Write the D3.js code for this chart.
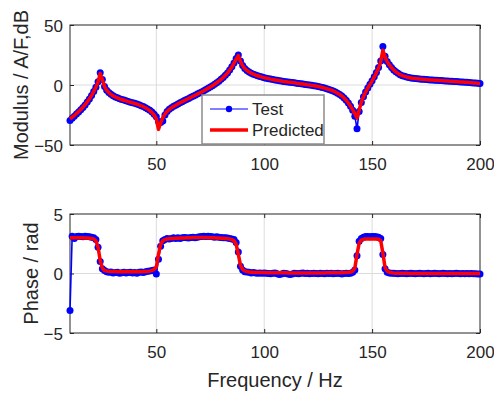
<!DOCTYPE html>
<html>
<head>
<meta charset="utf-8">
<script src="https://cdnjs.cloudflare.com/ajax/libs/d3/7.8.5/d3.min.js"></script>
<style>
body { margin: 0; background: #fff; }
svg text { font-family: "Liberation Sans", Arial, sans-serif; fill: #262626; }
</style>
</head>
<body>
<div id="chart-area"></div>
<script>

// frequency grid of the measurement, 1 Hz steps from 10 to 200 Hz
var freq = d3.range(10, 201);

// modulus (dB)
var modTest = [
    -29.6, -27.8, -26.0, -24.2, -22.4, -20.7, -18.8, -16.6, -14.2, -11.6,
    -8.7, -5.5, -1.8, 2.8, 10.2, 4.5, -1.2, -4.3, -6.3, -7.8,
    -9.0, -9.9, -10.7, -11.4, -12.0, -12.6, -13.2, -13.8, -14.3, -14.8,
    -15.3, -15.9, -16.5, -17.2, -18.0, -18.9, -19.9, -21.1, -22.6, -24.3,
    -26.5, -30.5, -31.2, -30.0, -25.0, -22.0, -20.2, -18.9, -17.8, -16.8,
    -15.8, -14.8, -13.9, -13.0, -12.1, -11.2, -10.3, -9.4, -8.5, -7.6,
    -6.7, -5.8, -4.8, -3.8, -2.8, -1.7, -0.6, 0.6, 1.9, 3.2,
    4.7, 6.3, 8.1, 10.1, 12.5, 15.2, 18.4, 22.0, 25.0, 20.0,
    16.2, 13.8, 12.1, 10.8, 9.8, 9.0, 8.3, 7.7, 7.1, 6.6,
    6.1, 5.7, 5.3, 4.9, 4.6, 4.2, 3.9, 3.6, 3.3, 3.0,
    2.8, 2.5, 2.3, 2.0, 1.8, 1.5, 1.3, 1.0, 0.8, 0.5,
    0.2, 0.0, -0.3, -0.6, -0.9, -1.3, -1.7, -2.1, -2.6, -3.1,
    -3.7, -4.3, -5.0, -5.8, -6.8, -7.9, -9.2, -10.8, -12.7, -15.0,
    -17.8, -21.0, -26.0, -36.5, -22.0, -14.5, -9.8, -5.8, -2.4, 0.6,
    3.6, 6.8, 10.5, 14.5, 20.0, 32.0, 24.0, 19.5, 16.8, 14.6,
    12.6, 11.0, 9.7, 8.6, 7.8, 7.2, 6.7, 6.3, 5.9, 5.6,
    5.4, 5.2, 5.0, 4.8, 4.7, 4.5, 4.4, 4.2, 4.1, 4.0,
    3.9, 3.8, 3.7, 3.6, 3.4, 3.3, 3.2, 3.1, 3.0, 2.9,
    2.7, 2.6, 2.5, 2.3, 2.2, 2.0, 1.9, 1.7, 1.6, 1.4,
    1.3
];

var modPred = [
    -28.2, -26.9, -25.4, -23.8, -22.1, -20.4, -18.5, -16.4, -14.1, -11.5,
    -8.6, -5.4, -1.8, 2.6, 9.6, 4.4, -1.3, -4.4, -6.4, -7.9,
    -9.1, -10.0, -10.8, -11.5, -12.1, -12.7, -13.3, -13.9, -14.4, -14.9,
    -15.4, -16.0, -16.6, -17.3, -18.1, -19.0, -20.1, -21.4, -23.0, -25.0,
    -28.0, -37.0, -31.5, -27.2, -24.2, -22.0, -20.3, -19.0, -17.9, -16.9,
    -15.8, -14.8, -13.9, -13.0, -12.1, -11.2, -10.3, -9.4, -8.5, -7.6,
    -6.7, -5.8, -4.8, -3.8, -2.8, -1.7, -0.6, 0.6, 1.9, 3.2,
    4.7, 6.3, 8.1, 10.1, 12.4, 15.0, 18.2, 21.6, 24.5, 19.8,
    16.1, 13.7, 12.1, 10.8, 9.8, 9.0, 8.3, 7.7, 7.1, 6.6,
    6.1, 5.7, 5.3, 4.9, 4.6, 4.2, 3.9, 3.6, 3.3, 3.0,
    2.8, 2.5, 2.3, 2.0, 1.8, 1.5, 1.3, 1.0, 0.8, 0.5,
    0.2, 0.0, -0.3, -0.6, -0.9, -1.3, -1.7, -2.1, -2.6, -3.1,
    -3.7, -4.3, -5.0, -5.8, -6.8, -7.9, -9.2, -10.8, -12.7, -15.0,
    -17.6, -20.6, -24.0, -27.5, -20.8, -14.3, -9.8, -5.9, -2.5, 0.5,
    3.5, 6.7, 10.3, 14.2, 19.5, 29.0, 23.5, 19.3, 16.7, 14.5,
    12.6, 11.0, 9.7, 8.6, 7.8, 7.2, 6.7, 6.3, 5.9, 5.6,
    5.4, 5.2, 5.0, 4.8, 4.7, 4.5, 4.4, 4.2, 4.1, 4.0,
    3.9, 3.8, 3.7, 3.6, 3.4, 3.3, 3.2, 3.1, 3.0, 2.9,
    2.7, 2.6, 2.5, 2.3, 2.2, 2.0, 1.9, 1.7, 1.6, 1.4,
    1.3
];

// phase (rad)
var phTest = [
    -3.1, 3.12, 2.95, 3.1, 3.12, 3.1, 3.08, 3.12, 3.1, 3.08,
    3.05, 3.0, 2.85, 2.2, 1.0, 0.4, 0.25, 0.15, 0.1, 0.12,
    0.05, 0.08, 0.1, 0.02, 0.06, 0.1, 0.04, 0.08, 0.1, 0.05,
    0.08, 0.02, 0.1, 0.12, 0.08, 0.15, 0.18, 0.2, 0.25, 0.3,
    -0.05, 1.2, 2.3, 2.75, 2.85, 2.95, 2.9, 2.95, 3.0, 2.95,
    3.0, 2.95, 3.0, 3.02, 3.0, 2.98, 3.02, 3.05, 3.0, 3.05,
    3.08, 3.1, 3.12, 3.1, 3.12, 3.1, 3.08, 3.05, 3.08, 3.05,
    3.02, 3.0, 3.0, 2.98, 2.95, 2.9, 2.85, 2.6, 1.8, 0.6,
    0.3, 0.15, 0.12, 0.1, 0.05, 0.08, 0.05, 0.03, 0.05, 0.02,
    0.05, 0.02, 0.0, -0.03, 0.02, 0.04, -0.02, -0.08, -0.05, 0.02,
    0.0, -0.04, -0.08, -0.05, 0.02, 0.0, -0.03, 0.02, 0.04, 0.0,
    0.02, -0.02, 0.0, 0.03, 0.0, -0.03, 0.02, 0.0, -0.02, 0.03,
    0.0, 0.02, -0.03, 0.0, 0.02, 0.0, -0.04, 0.0, 0.03, 0.0,
    0.02, 0.1, 0.3, 1.5, 2.7, 2.95, 3.05, 3.1, 3.1, 3.08,
    3.1, 3.1, 3.08, 3.05, 2.95, 1.6, 0.4, 0.1, 0.05, 0.02,
    0.02, 0.0, -0.02, 0.0, 0.02, 0.0, -0.03, 0.0, 0.02, 0.0,
    -0.02, 0.0, 0.02, 0.0, -0.03, 0.0, 0.02, -0.02, 0.0, 0.02,
    0.0, -0.02, 0.0, 0.02, 0.0, -0.03, 0.0, -0.02, 0.0, 0.02,
    0.0, -0.02, 0.0, -0.03, 0.0, -0.02, 0.0, -0.03, -0.02, -0.04,
    -0.05
];

var phPred = [
    3.0, 3.0, 3.0, 3.0, 3.0, 3.0, 3.0, 2.98, 2.98, 2.97,
    2.95, 2.9, 2.75, 2.2, 1.1, 0.45, 0.25, 0.2, 0.18, 0.17,
    0.16, 0.16, 0.15, 0.15, 0.15, 0.15, 0.15, 0.15, 0.15, 0.15,
    0.15, 0.15, 0.15, 0.15, 0.16, 0.16, 0.17, 0.2, 0.25, 0.35,
    0.55, 1.6, 2.45, 2.75, 2.85, 2.9, 2.92, 2.94, 2.95, 2.96,
    2.97, 2.98, 2.98, 2.99, 3.0, 3.0, 3.01, 3.02, 3.02, 3.03,
    3.03, 3.03, 3.03, 3.02, 3.02, 3.01, 3.0, 3.0, 2.99, 2.98,
    2.97, 2.96, 2.95, 2.93, 2.9, 2.85, 2.75, 2.45, 1.6, 0.7,
    0.35, 0.22, 0.16, 0.13, 0.11, 0.1, 0.09, 0.09, 0.08, 0.08,
    0.08, 0.07, 0.07, 0.07, 0.07, 0.06, 0.06, 0.06, 0.06, 0.06,
    0.06, 0.05, 0.05, 0.05, 0.05, 0.05, 0.05, 0.05, 0.05, 0.05,
    0.05, 0.05, 0.05, 0.05, 0.05, 0.05, 0.05, 0.05, 0.05, 0.06,
    0.06, 0.06, 0.06, 0.06, 0.07, 0.07, 0.07, 0.08, 0.09, 0.1,
    0.12, 0.2, 0.45, 1.6, 2.55, 2.8, 2.88, 2.9, 2.9, 2.9,
    2.9, 2.9, 2.9, 2.88, 2.75, 1.7, 0.5, 0.2, 0.1, 0.06,
    0.04, 0.03, 0.03, 0.02, 0.02, 0.02, 0.02, 0.01, 0.01, 0.01,
    0.01, 0.01, 0.0, 0.0, 0.0, 0.0, 0.0, 0.0, 0.0, 0.0,
    0.0, 0.0, 0.0, 0.0, 0.0, 0.0, 0.0, 0.0, 0.0, 0.0,
    0.0, 0.0, 0.0, 0.0, 0.0, 0.0, 0.0, 0.0, 0.0, 0.0,
    0.0
];

var xTicks = [50, 100, 150, 200];
var modTicks = [-50, 0, 50];
var phTicks = [-5, 0, 5];
var legendNames = ["Test", "Predicted"];

// Set up SVG
var svg = d3.select("#chart-area").append("svg")
    .attr("width", 494)
    .attr("height", 394);

var left = 70, plotW = 410;

var x = d3.scaleLinear()
    .domain([10, 200])
    .range([0, plotW]);

function drawPanel(top, h, yDomain, yTicks, testVals, predVals) {

    var y = d3.scaleLinear()
        .domain(yDomain)
        .range([h, 0]);

    var g = svg.append("g")
        .attr("transform", "translate(" + left + "," + top + ")");

    // grid
    g.selectAll(".xgrid")
        .data(xTicks.slice(0, 3))
        .enter().append("line")
        .attr("x1", function(d) { return x(d); })
        .attr("x2", function(d) { return x(d); })
        .attr("y1", 0)
        .attr("y2", h)
        .attr("stroke", "#dcdcdc");

    g.append("line")
        .attr("x1", 0)
        .attr("x2", plotW)
        .attr("y1", y(0))
        .attr("y2", y(0))
        .attr("stroke", "#dcdcdc");

    // axes
    g.append("g")
        .attr("transform", "translate(0," + h + ")")
        .call(d3.axisBottom(x).tickValues(xTicks).tickSizeInner(-4).tickSizeOuter(0).tickPadding(13));

    var yAxis = g.append("g")
        .call(d3.axisLeft(y).tickValues(yTicks).tickSizeInner(-4).tickSizeOuter(0).tickPadding(7));

    g.append("g")
        .call(d3.axisTop(x).tickValues(xTicks).tickSizeInner(-4).tickSizeOuter(0).tickFormat(""));

    g.append("g")
        .attr("transform", "translate(" + plotW + ",0)")
        .call(d3.axisRight(y).tickValues(yTicks).tickSizeInner(-4).tickSizeOuter(0).tickFormat(""));

    g.selectAll(".domain").remove();
    g.selectAll(".tick line").attr("stroke", "#262626");
    g.selectAll(".tick text")
        .style("font-size", "17px")
        .attr("fill", "#262626");
    yAxis.selectAll(".tick text").attr("dy", "0.36em");

    g.append("rect")
        .attr("width", plotW)
        .attr("height", h)
        .attr("fill", "none")
        .attr("stroke", "#262626")
        .attr("stroke-width", 1);

    var line = d3.line()
        .x(function(d, i) { return x(freq[i]); })
        .y(function(d) { return y(d); });

    // test: blue line with dots
    g.append("path")
        .datum(testVals)
        .attr("d", line)
        .attr("fill", "none")
        .attr("stroke", "#0000ff")
        .attr("stroke-width", 1.6);

    g.selectAll(".dot")
        .data(testVals)
        .enter().append("circle")
        .attr("class", "dot")
        .attr("cx", function(d, i) { return x(freq[i]); })
        .attr("cy", function(d) { return y(d); })
        .attr("r", 3.5)
        .attr("fill", "#0000ff");

    // predicted: thick red line
    g.append("path")
        .datum(predVals)
        .attr("d", line)
        .attr("fill", "none")
        .attr("stroke", "#ff0000")
        .attr("stroke-width", 3.5)
        .attr("stroke-linejoin", "round");

    return g;
}

drawPanel(25, 120, [-50, 50], modTicks, modTest, modPred);
drawPanel(214, 119, [-5, 5], phTicks, phTest, phPred);

// Legend
var legend = svg.append("g")
    .attr("transform", "translate(202,95)");

legend.append("rect")
    .attr("width", 122)
    .attr("height", 49)
    .attr("fill", "#fff")
    .attr("stroke", "#8c8c8c")
    .attr("stroke-width", 1.5);

legend.append("line")
    .attr("x1", 8).attr("x2", 46)
    .attr("y1", 14).attr("y2", 14)
    .attr("stroke", "#0000ff")
    .attr("stroke-width", 1.2);

legend.append("circle")
    .attr("cx", 27).attr("cy", 14)
    .attr("r", 3.2)
    .attr("fill", "#0000ff");

legend.append("line")
    .attr("x1", 8).attr("x2", 46)
    .attr("y1", 35).attr("y2", 35)
    .attr("stroke", "#ff0000")
    .attr("stroke-width", 3.5);

legend.selectAll(".legend-text")
    .data(legendNames)
    .enter().append("text")
    .attr("class", "legend-text")
    .attr("x", 50)
    .attr("y", function(d, i) { return 14 + i * 21; })
    .attr("dy", "0.36em")
    .style("font-size", "17px")
    .attr("fill", "#000")
    .text(function(d) { return d; });

// Axis labels
svg.append("text")
    .attr("transform", "translate(28,85) rotate(-90)")
    .attr("text-anchor", "middle")
    .style("font-size", "20px")
    .text("Modulus / A/F,dB");

svg.append("text")
    .attr("transform", "translate(38,273.5) rotate(-90)")
    .attr("text-anchor", "middle")
    .style("font-size", "20px")
    .text("Phase / rad");

svg.append("text")
    .attr("x", 275)
    .attr("y", 387)
    .attr("text-anchor", "middle")
    .style("font-size", "20px")
    .text("Frequency / Hz");

</script>
</body>
</html>
